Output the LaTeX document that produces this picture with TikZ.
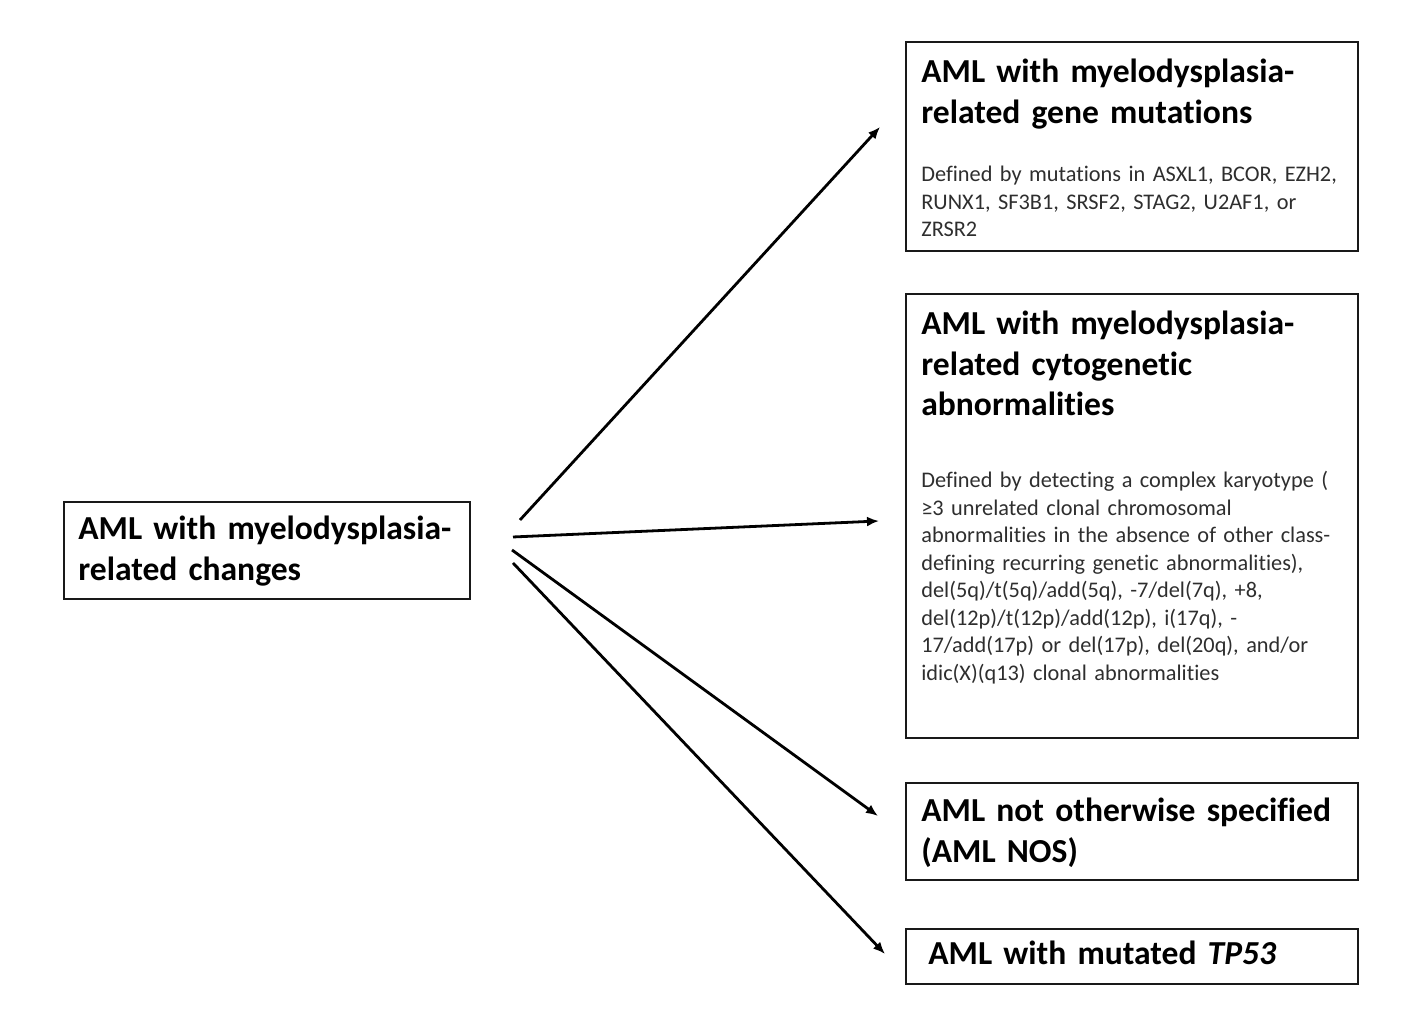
\documentclass[tikz,border=0pt]{standalone}
\usepackage{fontspec}
\setmainfont{Carlito}[Ligatures=NoCommon]
\usetikzlibrary{arrows.meta}
\tikzset{
  boxframe/.style={draw=black!90, line width=0.040000cm, inner sep=0pt, outer sep=0pt},
  headtext/.style={inner sep=0pt, anchor=base west, align=left, text width=9.000000cm,
    font=\fontsize{19.1}{22.8}\selectfont\bfseries},
  bodytext/.style={inner sep=0pt, anchor=base west, align=left, text width=9.000000cm,
    text=black!82, font=\fontsize{12.7}{15.65}\selectfont},
  linkarrow/.style={line width=0.056000cm, -{Latex[length=0.240000cm,width=0.200000cm]}}
}
\begin{document}
\begin{tikzpicture}
                \useasboundingbox (0.000000,0.000000) rectangle (28.220000,20.680000);
                
                % Drawing box source
                \draw (5.340000,9.670000) node (srcbox) [boxframe, minimum width=8.120000cm, minimum height=1.940000cm] {};%
                
                % Drawing box gene
                \draw (22.640000,17.750000) node (genebox) [boxframe, minimum width=9.040000cm, minimum height=4.180000cm] {};%
                
                % Drawing box cyto
                \draw (22.640000,10.360000) node (cytobox) [boxframe, minimum width=9.040000cm, minimum height=8.880000cm] {};%
                
                % Drawing box nos
                \draw (22.640000,4.050000) node (nosbox) [boxframe, minimum width=9.040000cm, minimum height=1.940000cm] {};%
                
                % Drawing box tp53
                \draw (22.640000,1.550000) node (tpbox) [boxframe, minimum width=9.040000cm, minimum height=1.100000cm] {};%
                
                % Marking text source
                \draw (1.560000,9.880000) node (srctext) [headtext] {AML with myelodysplasia-\\related changes};%
                
                % Marking text gene
                \draw (18.420000,19.020000) node (genehead) [headtext] {AML with myelodysplasia-\\related gene mutations};%
                \draw (18.420000,17.040000) node (genebody) [bodytext] {Defined by mutations in ASXL1, BCOR, EZH2,\\RUNX1, SF3B1, SRSF2, STAG2, U2AF1, or\\ZRSR2};%
                
                % Marking text cyto
                \draw (18.420000,13.980000) node (cytohead) [headtext] {AML with myelodysplasia-\\related cytogenetic\\abnormalities};%
                \draw (18.420000,10.920000) node (cytobody) [bodytext] {Defined by detecting a complex karyotype (\\≥3 unrelated clonal chromosomal\\abnormalities in the absence of other class-\\defining recurring genetic abnormalities),\\del(5q)/t(5q)/add(5q), -7/del(7q), +8,\\del(12p)/t(12p)/add(12p), i(17q), -\\17/add(17p) or del(17p), del(20q), and/or\\idic(X)(q13) clonal abnormalities};%
                
                % Marking text nos
                \draw (18.420000,4.240000) node (noshead) [headtext] {AML not otherwise specified\\(AML NOS)};%
                
                % Marking text tp53
                \draw (18.560000,1.380000) node (tphead) [headtext] {AML with mutated \textit{TP53}};%
                
                % Arrow end points
                \coordinate (out1) at (10.400000,10.280000);
                \coordinate (out2) at (10.260000,9.940000);
                \coordinate (out3) at (10.240000,9.680000);
                \coordinate (out4) at (10.260000,9.420000);
                \coordinate (in1) at (17.600000,18.140000);
                \coordinate (in2) at (17.580000,10.260000);
                \coordinate (in3) at (17.560000,4.360000);
                \coordinate (in4) at (17.700000,1.600000);
                
                % Drawing arrows
                \draw [linkarrow] (out1) -- (in1);%
                \draw [linkarrow] (out2) -- (in2);%
                \draw [linkarrow] (out3) -- (in3);%
                \draw [linkarrow] (out4) -- (in4);%
            \end{tikzpicture}
\end{document}
